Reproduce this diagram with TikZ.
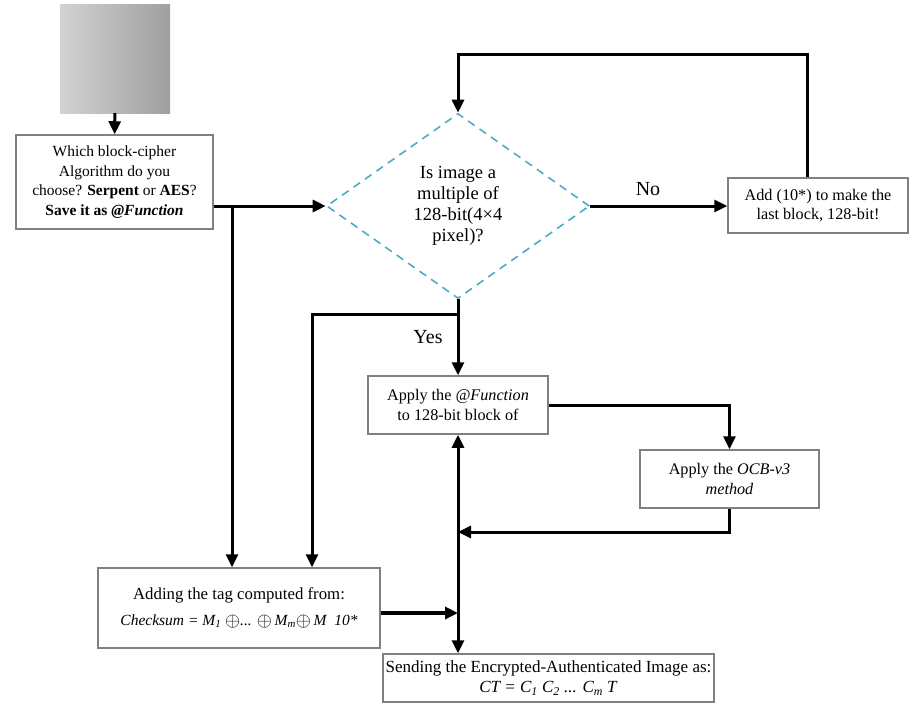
\documentclass[tikz,border=0pt]{standalone}
\usepackage{fontspec}
\usepackage{graphicx}
\setmainfont{Liberation Serif}
\usetikzlibrary{shapes.geometric,arrows.meta}
\definecolor{dashblue}{RGB}{75,172,198}
\newcommand{\bigxor}{\raisebox{-0.1ex}{\scalebox{1.35}{$\oplus$}}}
\begin{document}
\begin{tikzpicture}[x=1pt,y=-1pt,
  box/.style={draw=gray,line width=1.5pt,align=center,inner sep=2pt,font=\fontsize{16.2}{19.5}\selectfont},
  flow/.style={line width=3pt,-{Triangle[length=13pt,width=12pt]}},
  label/.style={font=\fontsize{20}{22}\selectfont}]
\useasboundingbox (0,0) rectangle (919,705);

\node (img) [left color=gray!35,right color=gray!75,minimum width=110,minimum height=109,inner sep=0] at (115,58.5) {};
\node (choose) [box,minimum width=197,minimum height=94,font=\fontsize{15.5}{19.5}\selectfont] at (114.5,182) {Which block-cipher\\Algorithm do you\\choose? \textbf{Serpent} or \textbf{AES}?\\\textbf{Save it as \textit{@Function}}};
\node (test) [diamond,draw=dashblue,dash pattern=on 8pt off 6pt,line width=1.6pt,minimum width=263,minimum height=185,inner sep=0,align=center,font=\fontsize{18.5}{21}\selectfont] at (458,206) {Is image a\\multiple of\\128-bit(4×4\\pixel)?};
\node (pad) [box,minimum width=180,minimum height=55] at (818,205.5) {Add (10*) to make the\\last block, 128-bit!};
\node (apply) [box,minimum width=180,minimum height=58] at (458,405) {Apply the \textit{@Function}\\to 128-bit block of};
\node (ocb) [box,minimum width=179,minimum height=58] at (729.5,479) {Apply the \textit{OCB-v3}\\\textit{method}};
\node (tag) [box,minimum width=282,minimum height=80,font=\fontsize{16.8}{26}\selectfont] at (239,608) {Adding the tag computed from:\\\fontsize{15.5}{26}\selectfont\textit{Checksum = M\textsubscript{1} \bigxor... \bigxor\,M\textsubscript{m}\bigxor\,M\ \ 10*}};
\node (send) [box,minimum width=331,minimum height=48,font=\fontsize{17}{20}\selectfont] at (548.5,678) {Sending the Encrypted-Authenticated Image as:\\\textit{CT = C\textsubscript{1} C\textsubscript{2} ... C\textsubscript{m} T}};
\node (no) [label] at (648,189) {No};
\node (yes) [label] at (428,337) {Yes};

\coordinate (split) at (232,206);
\coordinate (loop) at (807,54);
\coordinate (fork) at (458,314);
\coordinate (merge) at (458,532);
\coordinate (join) at (458,613);

\draw [flow] (img) -- (choose);
\draw [flow] (choose.east |- test.west) -- (test.west);
\draw [flow] (split) -- (split |- tag.north);
\draw [flow] (test.east) -- (test.east -| pad.west);
\draw [flow] (loop |- pad.north) -- (loop) -| (test.north);
\draw [flow] (test.south) -- (apply.north);
\draw [flow] (fork) -| ([xshift=73pt]tag.north);
\draw [flow] (apply.east) -| (ocb.north);
\draw [flow] (ocb.south) |- (merge);
\draw [flow,{Triangle[length=13pt,width=12pt]}-{Triangle[length=13pt,width=12pt]}] (apply.south) -- (apply.south |- send.north);
\draw [flow,line width=4.5pt] (tag.east |- join) -- (join);

\end{tikzpicture}
\end{document}
